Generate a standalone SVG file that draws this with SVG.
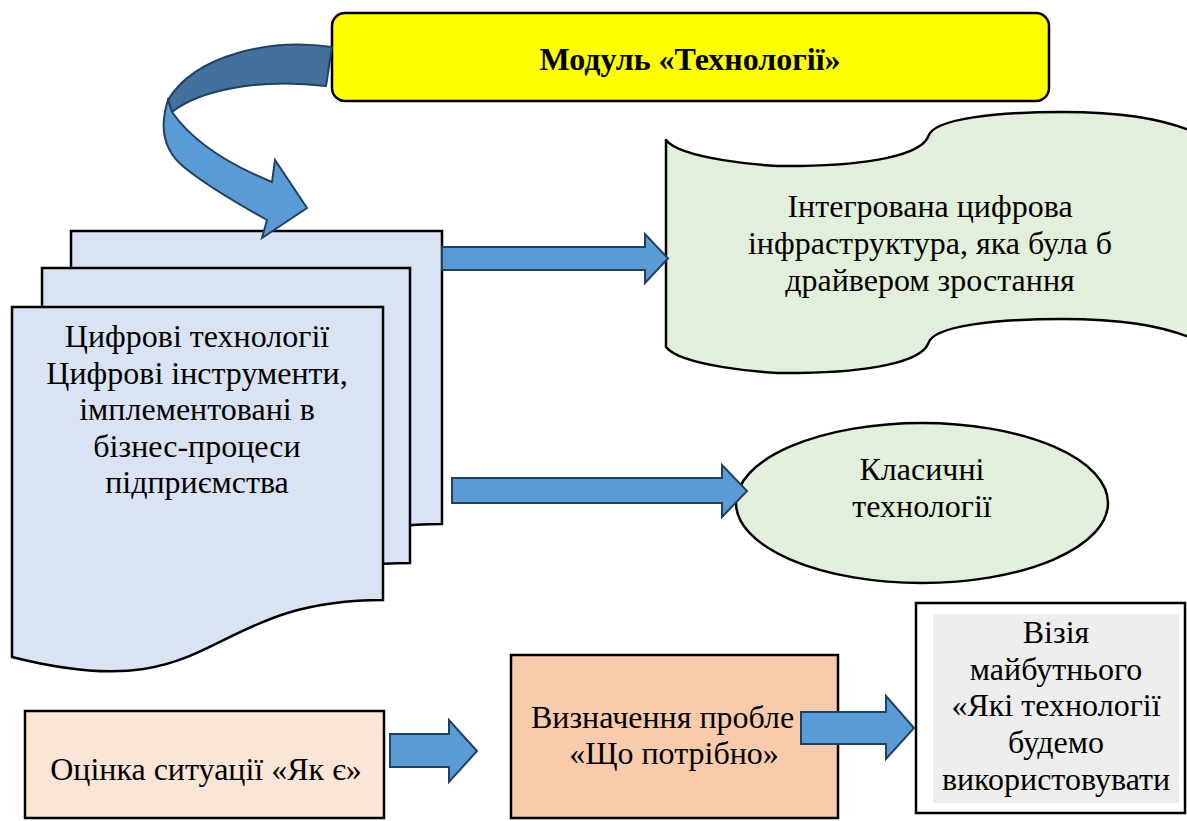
<svg xmlns="http://www.w3.org/2000/svg" width="1187" height="821" viewBox="0 0 1187 821" font-family="'Liberation Serif', 'Times New Roman', serif">
  <style>
    .t { font-family: 'Liberation Serif', 'Times New Roman', serif; font-size: 32px; fill: #000; text-anchor: middle; }
    .title { font-weight: bold; }
    .box { stroke: #000; stroke-width: 2.5; }
    .page { fill: #dae3f3; stroke: #000; stroke-width: 2.5; stroke-linejoin: miter; }
    .green { fill: #e2efda; stroke: #000; stroke-width: 2.5; stroke-linejoin: round; }
    .arrow { fill: #5b9bd5; stroke: #22405f; stroke-width: 2; stroke-linejoin: miter; }
  </style>

  <rect width="1187" height="821" fill="#fff"/>

  <!-- Module header -->
  <g id="module">
    <rect class="box" x="332" y="13" width="717" height="88" rx="13" ry="13" fill="#ffff00"/>
    <text class="t title" x="690" y="70">Модуль «Технології»</text>
  </g>

  <!-- Stacked documents: digital technologies -->
  <g id="digital-tech">
    <path class="page" d="M71,231 L442,231 L442,524 C259,524 279,634 71,581 Z"/>
    <path class="page" d="M42,268 L410,268 L410,563 C227,563 247,673 42,620 Z"/>
    <path class="page" d="M12,307 L383,307 L383,600 C200,600 220,710 12,657 Z"/>
    <text class="t" x="197" y="347">Цифрові технології</text>
    <text class="t" x="197" y="383.5">Цифрові інструменти,</text>
    <text class="t" x="197" y="420">імплементовані в</text>
    <text class="t" x="197" y="456.5">бізнес-процеси</text>
    <text class="t" x="197" y="493">підприємства</text>
  </g>

  <!-- Wave banner: integrated digital infrastructure -->
  <g id="infrastructure">
    <path class="green" d="M666,140 C680,158 760,167 800,166 C870,165 920,155 928,137 C932,118 1000,112 1062,112 C1120,112 1160,118 1194,132 L1194,339 C1160,325 1120,319 1062,319 C1000,319 932,325 928,344 C920,362 870,372 800,373 C760,374 680,365 666,347 Z"/>
    <text class="t" x="930" y="217">Інтегрована цифрова</text>
    <text class="t" x="930" y="254">інфраструктура, яка була б</text>
    <text class="t" x="930" y="291">драйвером зростання</text>
  </g>

  <!-- Ellipse: classic technologies -->
  <g id="classic-tech">
    <ellipse class="green" cx="922" cy="503" rx="186" ry="80"/>
    <text class="t" x="922" y="480">Класичні</text>
    <text class="t" x="922" y="517">технології</text>
  </g>

  <!-- Current state -->
  <g id="assessment">
    <rect class="box" x="25" y="711" width="359" height="107" fill="#fbe5d6"/>
    <text class="t" x="206" y="780">Оцінка ситуації «Як є»</text>
  </g>

  <!-- Problem definition -->
  <g id="problem">
    <rect class="box" x="511" y="655" width="327" height="163" fill="#f8cbad"/>
    <text class="t" x="531" y="728" style="text-anchor:start">Визначення пробле</text>
    <text class="t" x="674" y="764">«Що потрібно»</text>
  </g>

  <!-- Future vision -->
  <g id="vision">
    <rect class="box" x="916" y="603" width="269" height="210" fill="#fff"/>
    <rect x="933" y="614" width="246" height="189" fill="#ededed"/>
    <text class="t" x="1056" y="643">Візія</text>
    <text class="t" x="1056" y="680">майбутнього</text>
    <text class="t" x="1056" y="716">«Які технології</text>
    <text class="t" x="1056" y="753">будемо</text>
    <text class="t" x="1056" y="790">використовувати</text>
  </g>

  <!-- Connectors -->
  <g id="connectors">
    <!-- curved arrow from the module header down to the documents -->
    <path d="M332,47 C270,38 195,55 168,100 L172,112 C200,90 260,78 326,86 Z" fill="#41719c" stroke="#22405f" stroke-width="2" stroke-linejoin="round"/>
    <path d="M168,100 C160,125 162,150 185,168 C210,188 240,205 267,220 L262,238 L307,208 L275,160 L272,182 C235,167 195,145 172,112 Z" fill="#5b9bd5" stroke="#22405f" stroke-width="2" stroke-linejoin="miter"/>
    <path class="arrow" d="M442,247 L645,247 L645,234 L668,258.5 L645,283 L645,270 L442,270 Z"/>
    <path class="arrow" d="M452,478 L722,478 L722,465 L747,491 L722,517 L722,503 L452,503 Z"/>
    <path class="arrow" d="M390,734 L449,734 L449,720 L477,751 L449,782 L449,767 L390,767 Z"/>
    <path class="arrow" d="M801,712 L886,712 L886,696 L914,728 L886,759 L886,744 L801,744 Z"/>
  </g>
</svg>
